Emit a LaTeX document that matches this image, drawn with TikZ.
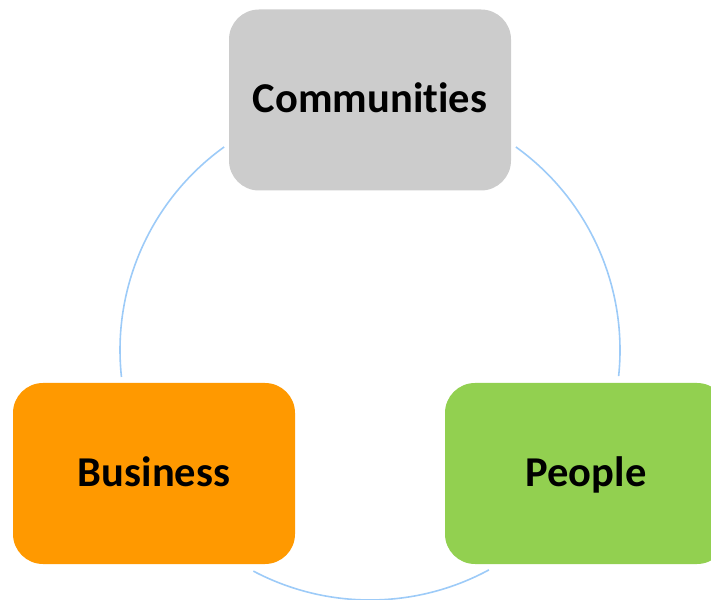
\documentclass[tikz,border=0pt]{standalone}
\usepackage{fontspec}
\setmainfont{Carlito}[Ligatures={NoCommon}]
\definecolor{boxgray}{HTML}{CCCCCC}
\definecolor{boxorange}{HTML}{FF9900}
\definecolor{boxgreen}{HTML}{92D050}
\definecolor{ringblue}{HTML}{9DCBF8}
\begin{document}
\begin{tikzpicture}[x=1pt,y=1pt,
  cyclebox/.style={rectangle, rounded corners=30pt, minimum width=282pt, minimum height=181pt, inner sep=0pt,
    font=\fontsize{42.5}{50}\selectfont\bfseries, text=black, text height=35pt, text depth=9pt},
  ring/.style={draw=ringblue, line width=1.6pt}]
\useasboundingbox (0,0) rectangle (711,599);
\coordinate (c) at (370,249);
\node[cyclebox, fill=boxgray] (comm) at (370,499) {Communities};
\node[cyclebox, fill=boxorange] (bus) at (154,125.5) {Business};
\node[cyclebox, fill=boxgreen] (peo) at (586,125.5) {People};
\draw[ring] (c) ++(125.7:250) arc[start angle=125.7, end angle=186.2, radius=250];
\draw[ring] (c) ++(54.3:250) arc[start angle=54.3, end angle=-6, radius=250];
\draw[ring] (c) ++(242.2:250) arc[start angle=242.2, end angle=298.4, radius=250];
\end{tikzpicture}
\end{document}
